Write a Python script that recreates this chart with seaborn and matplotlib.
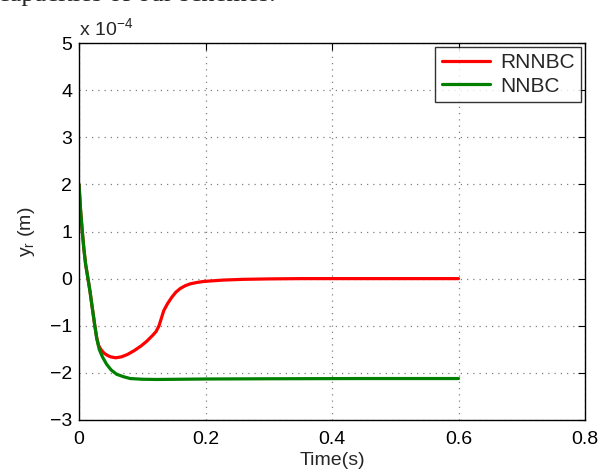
import matplotlib
matplotlib.use("Agg")
import matplotlib.pyplot as plt
import pandas as pd
import seaborn as sns

# values are in units of 1e-4 m
t_rnnbc = [0.0, 0.0025, 0.0052, 0.0078, 0.0105, 0.0142, 0.0175, 0.021, 0.0248, 0.028,
           0.031, 0.035, 0.0395, 0.045, 0.050, 0.058, 0.067, 0.0765, 0.087, 0.098,
           0.107, 0.116, 0.122, 0.1265, 0.130, 0.134, 0.140, 0.147, 0.153, 0.160,
           0.168, 0.176, 0.187, 0.197, 0.229, 0.26, 0.30, 0.35, 0.45, 0.60]
y_rnnbc = [2.0, 1.45, 1.0, 0.62, 0.3, 0.0, -0.28, -0.62, -0.98, -1.25,
           -1.42, -1.51, -1.58, -1.63, -1.66, -1.68, -1.66, -1.61, -1.53, -1.43,
           -1.33, -1.21, -1.12, -1.0, -0.85, -0.68, -0.53, -0.39, -0.29, -0.21,
           -0.15, -0.11, -0.08, -0.06, -0.03, -0.015, -0.006, 0.0, 0.0, 0.0]

t_nnbc = [0.0, 0.0025, 0.0052, 0.0078, 0.0105, 0.0142, 0.0175, 0.021, 0.0248, 0.028,
          0.032, 0.037, 0.0438, 0.051, 0.0596, 0.070, 0.081, 0.100, 0.123, 0.20,
          0.30, 0.45, 0.60]
y_nnbc = [2.0, 1.45, 1.0, 0.62, 0.3, 0.0, -0.28, -0.62, -0.98, -1.27,
          -1.5, -1.66, -1.82, -1.94, -2.03, -2.08, -2.12, -2.135, -2.14, -2.13,
          -2.125, -2.12, -2.12]

series = ["RNNBC", "NNBC"]
colors = ["#ff0000", "#008000"]

df = pd.concat([
    pd.DataFrame({"t": t_rnnbc, "y": y_rnnbc, "s": "RNNBC"}),
    pd.DataFrame({"t": t_nnbc, "y": y_nnbc, "s": "NNBC"}),
])

sns.set_style("white")
plt.rcParams["font.family"] = ["Liberation Sans", "DejaVu Sans"]

fig = plt.figure(figsize=(6.01, 4.70), dpi=100)
ax = fig.add_axes([79 / 601, 1 - 420 / 470, (585 - 79) / 601, (420 - 43) / 470])

sns.lineplot(data=df, x="t", y="y", hue="s", hue_order=series,
             palette=colors, linewidth=2.3, sort=False, estimator=None, ax=ax)

ax.set_xlim(0, 0.8)
ax.set_ylim(-3, 5)
ax.set_xticks([0, 0.2, 0.4, 0.6, 0.8])
ax.set_xticklabels(["0", "0.2", "0.4", "0.6", "0.8"])
ax.set_yticks(range(-3, 6))
ax.set_yticklabels([str(v).replace("-", "\u2212") for v in range(-3, 6)])
ax.tick_params(direction="in", top=True, right=True, length=5, width=0.8,
               labelsize=14, colors="black")
ax.tick_params(axis="x", pad=8)
ax.tick_params(axis="y", pad=5)
ax.grid(True, linestyle=(0, (1, 4)), color="#808080", linewidth=0.9)
for sp in ax.spines.values():
    sp.set_color("black")
    sp.set_linewidth(1.0)

ax.set_xlabel("Time(s)", fontsize=14, labelpad=3)
ax.set_ylabel(r"$\mathregular{y_r}$ (m)", fontsize=14, labelpad=9)
ax.text(0.0, 1.008, r"x 10$^{\mathregular{-4}}$", transform=ax.transAxes,
        fontsize=14, ha="left", va="bottom")

leg = ax.legend(loc="upper right", fontsize=15, frameon=True, fancybox=False,
                edgecolor="black", handlelength=2.3, borderaxespad=0.2,
                borderpad=0.3, labelspacing=0.2, handletextpad=0.5)
leg.get_frame().set_linewidth(1.0)
leg.set_title(None)

# clipped caption text from the page above the figure
fig.text(-0.004, 0.9979, "capacities of our schemes.", family="Liberation Serif",
         fontsize=19, va="baseline", ha="left")

fig.savefig("out.png", dpi=100)
